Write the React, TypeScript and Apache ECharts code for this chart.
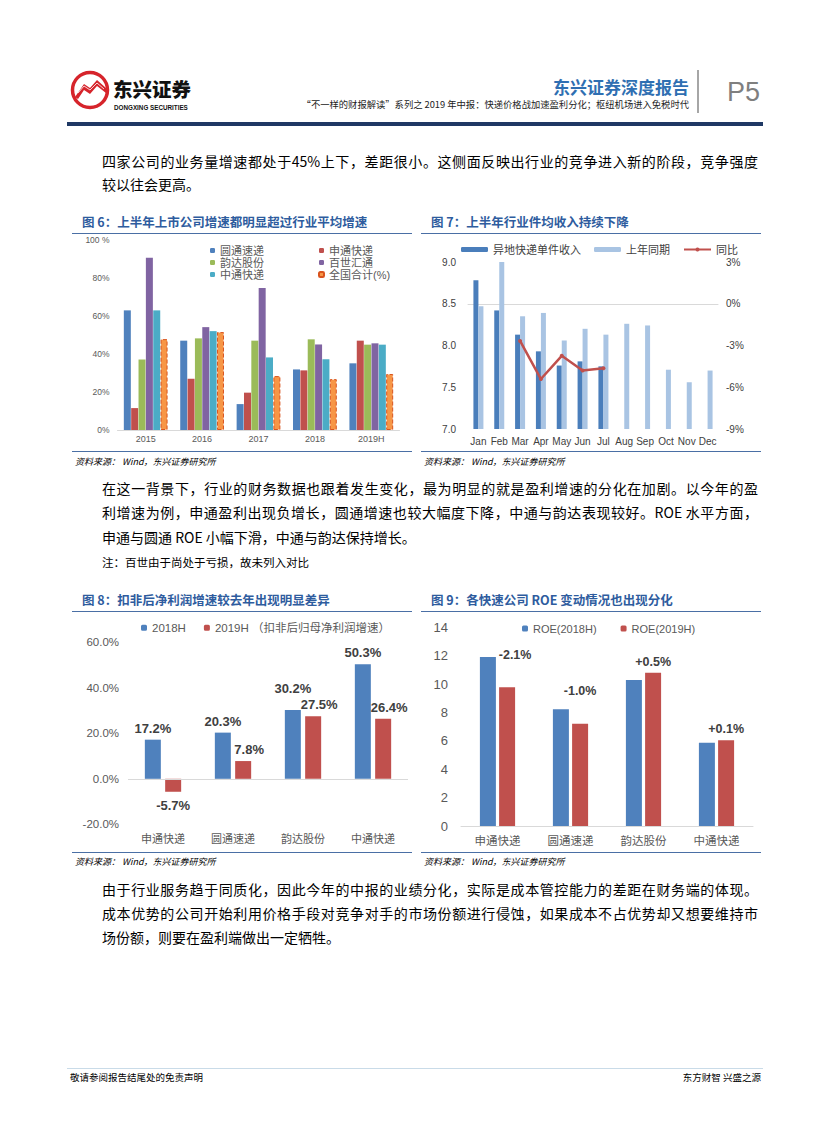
import React, { useEffect, useRef } from 'react';
import * as echarts from 'echarts';

// ---------- Figure 6 data ----------
const years = ['2015', '2016', '2017', '2018', '2019H'];
const ytoGrowth = [62.8, 46.9, 13.6, 31.8, 35.0];
const stoGrowth = [11.5, 26.9, 19.6, 31.3, 46.9];
const yundaGrowth = [37.0, 48.1, 46.9, 47.6, 44.8];
const bestGrowth = [90.4, 54.0, 74.5, 44.9, 45.5];
const ztoGrowth = [62.8, 51.9, 38.1, 37.1, 44.8];
const nationalGrowth = [47.7, 51.4, 28.3, 26.7, 29.4];

// ---------- Figure 7 data ----------
const months = ['Jan', 'Feb', 'Mar', 'Apr', 'May', 'Jun', 'Jul', 'Aug', 'Sep', 'Oct', 'Nov', 'Dec'];
const unitRevenue2019 = [8.78, 8.42, 8.13, 7.93, 7.76, 7.81, 7.75, null, null, null, null, null];
const unitRevenue2018 = [8.47, 9.0, 8.35, 8.39, 8.06, 8.2, 8.13, 8.26, 8.24, 7.71, 7.56, 7.7];
const unitRevenueYoY = [null, null, -2.67, -5.41, -3.74, -4.79, -4.63, null, null, null, null, null];

// ---------- Figure 8 data ----------
const companies = ['申通快递', '圆通速递', '韵达股份', '中通快递'];
const profitGrowth2018H = [17.2, 20.3, 30.2, 50.3];
const profitGrowth2019H = [-5.7, 7.8, 27.5, 26.4];

// ---------- Figure 9 data ----------
const roe2018H = [11.91, 8.22, 10.29, 5.87];
const roe2019H = [9.77, 7.21, 10.8, 6.04];
const roeChange = ['-2.1%', '-1.0%', '+0.5%', '+0.1%'];

const FONT = '"Liberation Sans", Arial, "Noto Sans CJK SC", sans-serif';
const CJK = '"Noto Sans CJK SC", "Liberation Sans", sans-serif';
const BLUE = '#4f81bd';
const RED = '#c0504d';

function EChart({ option, style }: { option: any; style: React.CSSProperties }) {
  const ref = useRef<HTMLDivElement>(null);
  useEffect(() => {
    const chart = echarts.init(ref.current as HTMLDivElement, null, { renderer: 'svg' });
    chart.setOption(option);
    return () => chart.dispose();
  }, []);
  return <div ref={ref} style={style} />;
}

const legendText6 = { color: '#595959', fontSize: 11, lineHeight: 11, fontFamily: FONT };

const option6 = {
  animation: false,
  textStyle: { fontFamily: FONT },
  grid: { left: 45.5, right: 12.5, top: 4.5, bottom: 20 },
  legend: [
    {
      orient: 'vertical', left: 133, top: 5, itemWidth: 5, itemHeight: 5, itemGap: 1,
      textStyle: legendText6, data: ['圆通速递', '韵达股份', '中通快递'],
    },
    {
      orient: 'vertical', left: 241, top: 5, itemWidth: 5, itemHeight: 5, itemGap: 1,
      textStyle: legendText6, data: ['申通快递', '百世汇通', '全国合计(%)'],
    },
  ],
  xAxis: {
    type: 'category', data: years,
    axisLine: { lineStyle: { color: '#d9d9d9' } }, axisTick: { show: false },
    axisLabel: { color: '#595959', fontSize: 9, margin: 4 },
  },
  yAxis: {
    type: 'value', min: 0, max: 100, interval: 20,
    splitLine: { show: false }, axisLine: { show: false }, axisTick: { show: false },
    axisLabel: { color: '#595959', fontSize: 8.5, margin: 8, formatter: (v: number) => (v === 100 ? '100 %' : v + '%') },
  },
  series: [
    { name: '圆通速递', data: ytoGrowth, color: '#4f81bd' },
    { name: '申通快递', data: stoGrowth, color: '#c0504d' },
    { name: '韵达股份', data: yundaGrowth, color: '#9bbb59' },
    { name: '百世汇通', data: bestGrowth, color: '#8064a2' },
    { name: '中通快递', data: ztoGrowth, color: '#4bacc6' },
    {
      name: '全国合计(%)', data: nationalGrowth, color: '#f79646',
      itemStyle: { color: '#f79646', borderColor: '#d9541e', borderWidth: 1, borderType: 'dashed' },
    },
  ].map((s) => ({ type: 'bar', barWidth: 7, barGap: '5%', ...s })),
};

const option7 = {
  animation: false,
  textStyle: { fontFamily: FONT },
  grid: { left: 47, right: 43, top: 27, bottom: 21 },
  legend: {
    left: 35, top: 4, itemWidth: 27, itemHeight: 5, itemGap: 13,
    textStyle: { color: '#404040', fontSize: 11, fontFamily: FONT },
    data: ['异地快递单件收入', '上年同期', '同比'],
  },
  xAxis: {
    type: 'category', data: months,
    axisLine: { lineStyle: { color: '#d9d9d9' } }, axisTick: { show: false },
    axisLabel: { color: '#404040', fontSize: 10, margin: 7, interval: 0 },
  },
  yAxis: [
    {
      type: 'value', min: 7, max: 9, interval: 0.5,
      splitLine: { show: false }, axisLine: { show: false }, axisTick: { show: false },
      axisLabel: { color: '#404040', fontSize: 10, margin: 12, formatter: (v: number) => v.toFixed(1) },
    },
    {
      type: 'value', min: -9, max: 3, interval: 3, position: 'right',
      splitLine: { show: false }, axisLine: { show: false }, axisTick: { show: false },
      axisLabel: { color: '#404040', fontSize: 10, margin: 8, formatter: (v: number) => v + '%' },
    },
  ],
  series: [
    { name: '异地快递单件收入', type: 'bar', data: unitRevenue2019, barWidth: 5, barGap: '0%', color: '#4a7ebb' },
    { name: '上年同期', type: 'bar', data: unitRevenue2018, barWidth: 5, barGap: '0%', color: '#a9c4e3' },
    {
      name: '同比', type: 'line', yAxisIndex: 1, data: unitRevenueYoY, color: '#c0504d',
      lineStyle: { width: 2.5, color: '#c0504d' }, symbol: 'circle', symbolSize: 4,
      itemStyle: { color: '#c0504d' },
    },
  ],
};

const labelStyle = { color: '#404040', fontWeight: 'bold', fontFamily: FONT };

const option8 = {
  animation: false,
  textStyle: { fontFamily: FONT },
  grid: { left: 56, right: 4, top: 29.3, bottom: 26.7 },
  legend: {
    left: 64, top: 4, itemWidth: 6, itemHeight: 6, itemGap: 18,
    textStyle: { color: '#595959', fontSize: 11.5, fontFamily: FONT },
    data: ['2018H', '2019H （扣非后归母净利润增速）'],
  },
  xAxis: {
    type: 'category', data: companies,
    axisLine: { show: false, onZero: false }, axisTick: { show: false },
    axisLabel: { color: '#595959', fontSize: 11, margin: 8, fontFamily: CJK },
  },
  yAxis: {
    type: 'value', min: -20, max: 60, interval: 20,
    splitLine: { show: false }, axisLine: { show: false }, axisTick: { show: false },
    axisLabel: { color: '#595959', fontSize: 11.5, margin: 9, formatter: (v: number) => v.toFixed(1) + '%' },
  },
  series: [
    {
      name: '2018H', type: 'bar', barWidth: 16, barGap: '27%', color: BLUE,
      data: profitGrowth2018H.map((v, i) => ({ value: v, label: i === 2 ? { offset: [0, -10] } : {} })),
      label: { show: true, position: 'top', distance: 5, fontSize: 13, ...labelStyle, formatter: (p: any) => p.value.toFixed(1) + '%' },
      markLine: {
        silent: true, symbol: 'none', label: { show: false },
        lineStyle: { color: '#d9d9d9', type: 'solid', width: 1 },
        data: [{ yAxis: 0 }],
      },
    },
    {
      name: '2019H （扣非后归母净利润增速）', type: 'bar', barWidth: 16, barGap: '27%', color: RED,
      data: profitGrowth2019H.map((v) => ({
        value: v,
        label: v < 0 ? { position: 'bottom', distance: 7 } : { offset: [6, 0] },
      })),
      label: { show: true, position: 'top', distance: 5, fontSize: 13, ...labelStyle, formatter: (p: any) => p.value.toFixed(1) + '%' },
    },
  ],
};

const roeLabelOffsets = [[8, -21], [0, -21], [0, 1], [0, 0]];

const option9 = {
  animation: false,
  textStyle: { fontFamily: FONT },
  grid: { left: 40, right: 8, top: 14.3, bottom: 25 },
  legend: {
    left: 96, top: 5, itemWidth: 6, itemHeight: 6, itemGap: 24,
    textStyle: { color: '#595959', fontSize: 11, fontFamily: FONT },
    data: ['ROE(2018H)', 'ROE(2019H)'],
  },
  xAxis: {
    type: 'category', data: companies,
    axisLine: { lineStyle: { color: '#d9d9d9' } }, axisTick: { show: false },
    axisLabel: { color: '#595959', fontSize: 11.5, margin: 8, fontFamily: CJK },
  },
  yAxis: {
    type: 'value', min: 0, max: 14, interval: 2,
    splitLine: { show: false }, axisLine: { show: false }, axisTick: { show: false },
    axisLabel: { color: '#595959', fontSize: 13, margin: 13 },
  },
  series: [
    { name: 'ROE(2018H)', type: 'bar', barWidth: 16, barGap: '20%', color: BLUE, data: roe2018H },
    {
      name: 'ROE(2019H)', type: 'bar', barWidth: 16, barGap: '20%', color: RED,
      data: roe2019H.map((v, i) => ({ value: v, label: { offset: roeLabelOffsets[i] } })),
      label: {
        show: true, position: 'top', distance: 5, fontSize: 12.5, ...labelStyle,
        formatter: (p: any) => roeChange[p.dataIndex],
      },
    },
  ],
};

const abs = (s: React.CSSProperties): React.CSSProperties => ({ position: 'absolute', ...s });

function Line({ text, top, last = false, size = 14 }: { text: string; top: number; last?: boolean; size?: number }) {
  return (
    <div
      style={abs({
        left: 102, top: top - 10, width: 656, height: 20, lineHeight: '20px',
        fontSize: size, fontFamily: CJK, color: '#000',
        textAlign: 'justify', textAlignLast: last ? 'left' : 'justify', whiteSpace: 'normal',
      })}
    >
      {text}
    </div>
  );
}

function FigureFrame({ left, title, titleTop, lineTop, bottomTop, sourceTop }: any) {
  return (
    <>
      <div style={abs({ left: left + 10, top: titleTop - 9, fontSize: 12.5, lineHeight: '18px', fontWeight: 'bold', color: '#2e5c9e', fontFamily: CJK, whiteSpace: 'nowrap' })}>
        {title}
      </div>
      <div style={abs({ left, top: lineTop, width: 340, height: 1, background: '#4a6fa5' })} />
      <div style={abs({ left, top: bottomTop, width: 340, height: 1, background: '#4a6fa5' })} />
      <div style={abs({ left: left + 3, top: sourceTop - 7, fontSize: 9, lineHeight: '14px', fontStyle: 'italic', fontFamily: CJK, color: '#000', whiteSpace: 'nowrap' })}>
        资料来源：&nbsp;Wind，东兴证券研究所
      </div>
    </>
  );
}

export default function App() {
  return (
    <div style={abs({ left: 0, top: 0, width: 827, height: 1122, background: '#fff', overflow: 'hidden' })}>
      {/* Header */}
      <svg style={abs({ left: 70, top: 70 })} width={42} height={42} viewBox="70 70 42 42">
        <circle cx={90} cy={90} r={17.5} fill="#fff" stroke="#d6242b" strokeWidth={3.5} />
        <polygon points="75,97 84,84 90,88 97,80 106,88 106,93 97,86 90,94 84,90 78,99" fill="#d6242b" />
        <polyline points="78,93 84,86 90,90 97,83 104,89" fill="none" stroke="#fff" strokeWidth={0.8} />
      </svg>
      <div style={abs({ left: 113, top: 79, fontSize: 19.5, lineHeight: '20px', fontWeight: 900, fontFamily: CJK, color: '#111', whiteSpace: 'nowrap' })}>东兴证券</div>
      <div style={abs({ left: 114, top: 103.5, fontSize: 6.3, lineHeight: '7px', fontWeight: 'bold', fontFamily: FONT, color: '#111', whiteSpace: 'nowrap' })}>DONGXING SECURITIES</div>
      <div style={abs({ left: 553, top: 76, fontSize: 17, lineHeight: '22px', fontWeight: 'bold', fontFamily: CJK, color: '#2f6fb2', whiteSpace: 'nowrap' })}>东兴证券深度报告</div>
      <div style={abs({ right: 827 - 689, top: 98, fontSize: 9.3, lineHeight: '12px', fontFamily: CJK, color: '#222', whiteSpace: 'nowrap' })}>
        “不一样的财报解读”系列之 2019 年中报：快递价格战加速盈利分化；枢纽机场进入免税时代
      </div>
      <div style={abs({ left: 697, top: 70, width: 1.5, height: 43, background: '#a6a6a6' })} />
      <div style={abs({ left: 727, top: 76, fontSize: 27, lineHeight: '32px', fontFamily: FONT, color: '#7f7f7f', whiteSpace: 'nowrap' })}>P5</div>
      <div style={abs({ left: 67, top: 122, width: 696, height: 4, background: '#1f3864' })} />

      {/* Paragraph 1 */}
      <Line top={161} text="四家公司的业务量增速都处于45%上下，差距很小。这侧面反映出行业的竞争进入新的阶段，竞争强度" />
      <Line top={184} last text="较以往会更高。" />

      {/* Figures 6 & 7 */}
      <FigureFrame left={72} title="图 6：上半年上市公司增速都明显超过行业平均增速" titleTop={222} lineTop={233} bottomTop={451} sourceTop={462} />
      <FigureFrame left={421} title="图 7：上半年行业件均收入持续下降" titleTop={222} lineTop={233} bottomTop={451} sourceTop={462} />
      <EChart option={option6} style={abs({ left: 72, top: 235, width: 340, height: 215 })} />
      <EChart option={option7} style={abs({ left: 421, top: 235, width: 340, height: 215 })} />

      {/* Paragraph 2 */}
      <Line top={488} text="在这一背景下，行业的财务数据也跟着发生变化，最为明显的就是盈利增速的分化在加剧。以今年的盈" />
      <Line top={512} text="利增速为例，申通盈利出现负增长，圆通增速也较大幅度下降，中通与韵达表现较好。ROE 水平方面，" />
      <Line top={537} last text="申通与圆通 ROE 小幅下滑，中通与韵达保持增长。" />
      <Line top={562} last size={11.5} text="注：百世由于尚处于亏损，故未列入对比" />

      {/* Figures 8 & 9 */}
      <FigureFrame left={72} title="图 8：扣非后净利润增速较去年出现明显差异" titleTop={600} lineTop={611} bottomTop={852} sourceTop={862} />
      <FigureFrame left={421} title="图 9：各快速公司 ROE 变动情况也出现分化" titleTop={600} lineTop={611} bottomTop={852} sourceTop={862} />
      <EChart option={option8} style={abs({ left: 72, top: 613, width: 340, height: 238 })} />
      <EChart option={option9} style={abs({ left: 421, top: 613, width: 340, height: 238 })} />

      {/* Paragraph 3 */}
      <Line top={889} text="由于行业服务趋于同质化，因此今年的中报的业绩分化，实际是成本管控能力的差距在财务端的体现。" />
      <Line top={913} text="成本优势的公司开始利用价格手段对竞争对手的市场份额进行侵蚀，如果成本不占优势却又想要维持市" />
      <Line top={937} last text="场份额，则要在盈利端做出一定牺牲。" />

      {/* Footer */}
      <div style={abs({ left: 67, top: 1068, width: 696, height: 1, background: '#c9dbe8' })} />
      <div style={abs({ left: 70, top: 1071, fontSize: 9.5, lineHeight: '12px', fontFamily: CJK, color: '#000', whiteSpace: 'nowrap' })}>敬请参阅报告结尾处的免责声明</div>
      <div style={abs({ right: 827 - 761, top: 1071, fontSize: 9.5, lineHeight: '12px', fontFamily: CJK, color: '#000', whiteSpace: 'nowrap' })}>东方财智&nbsp;兴盛之源</div>
    </div>
  );
}
